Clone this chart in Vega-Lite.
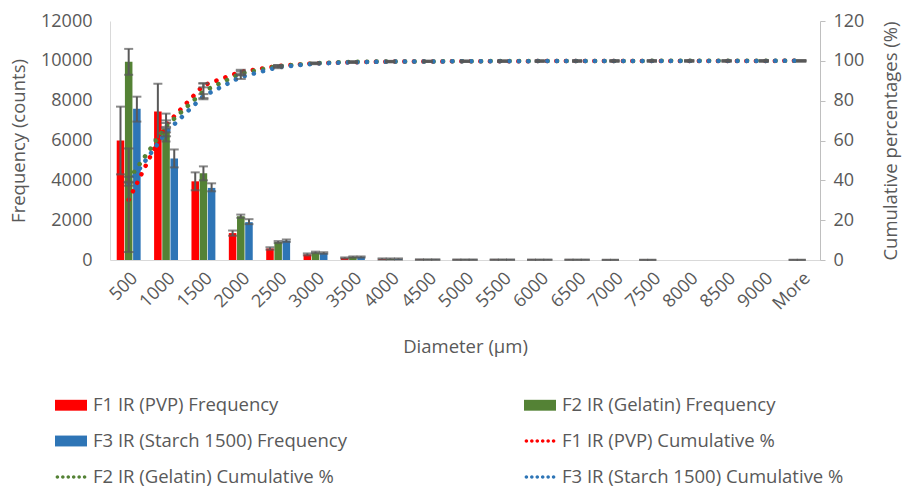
{
 "$schema": "https://vega.github.io/schema/vega-lite/v6.json",
 "width": 710, "height": 239,
 "autosize": "none",
 "padding": {"left": 110, "top": 21, "right": 84, "bottom": 228},
 "background": "white",
 "config": {
  "view": {"stroke": null},
  "font": "Open Sans",
  "axis": {"labelFont": "Open Sans", "titleFont": "Open Sans", "labelColor": "#595959", "titleColor": "#595959", "labelFontSize": 18, "titleFontSize": 18.5, "titleFontWeight": "normal", "grid": false, "labelOverlap": false}
 },
 "datasets": {"d": [
  {"d":"500","s":"F1","fk":"F1 IR (PVP) Frequency","ck":"F1 IR (PVP) Cumulative %","f":6000,"flo":4300,"fhi":7700,"c":30.2,"clo":4,"chi":56},
  {"d":"1000","s":"F1","fk":"F1 IR (PVP) Frequency","ck":"F1 IR (PVP) Cumulative %","f":7450,"flo":6050,"fhi":8850,"c":67.8,"clo":66.8,"chi":68.8},
  {"d":"1500","s":"F1","fk":"F1 IR (PVP) Frequency","ck":"F1 IR (PVP) Cumulative %","f":3950,"flo":3500,"fhi":4400,"c":87.7,"clo":86.7,"chi":88.7},
  {"d":"2000","s":"F1","fk":"F1 IR (PVP) Frequency","ck":"F1 IR (PVP) Cumulative %","f":1350,"flo":1220,"fhi":1480,"c":94.5,"clo":93.5,"chi":95.5},
  {"d":"2500","s":"F1","fk":"F1 IR (PVP) Frequency","ck":"F1 IR (PVP) Cumulative %","f":580,"flo":520,"fhi":640,"c":97.4,"clo":96.9,"chi":97.9},
  {"d":"3000","s":"F1","fk":"F1 IR (PVP) Frequency","ck":"F1 IR (PVP) Cumulative %","f":280,"flo":230,"fhi":330,"c":98.8,"clo":98.5,"chi":99.1},
  {"d":"3500","s":"F1","fk":"F1 IR (PVP) Frequency","ck":"F1 IR (PVP) Cumulative %","f":100,"flo":70,"fhi":130,"c":99.3,"clo":99.0,"chi":99.6},
  {"d":"4000","s":"F1","fk":"F1 IR (PVP) Frequency","ck":"F1 IR (PVP) Cumulative %","f":50,"flo":20,"fhi":80,"c":99.6,"clo":99.3,"chi":99.9},
  {"d":"4500","s":"F1","fk":"F1 IR (PVP) Frequency","ck":"F1 IR (PVP) Cumulative %","f":20,"flo":5,"fhi":35,"c":99.7,"clo":99.4,"chi":100},
  {"d":"5000","s":"F1","fk":"F1 IR (PVP) Frequency","ck":"F1 IR (PVP) Cumulative %","f":15,"flo":0,"fhi":30,"c":99.75,"clo":99.45,"chi":100.05},
  {"d":"5500","s":"F1","fk":"F1 IR (PVP) Frequency","ck":"F1 IR (PVP) Cumulative %","f":15,"flo":0,"fhi":30,"c":99.8,"clo":99.5,"chi":100.1},
  {"d":"6000","s":"F1","fk":"F1 IR (PVP) Frequency","ck":"F1 IR (PVP) Cumulative %","f":10,"flo":0,"fhi":25,"c":99.87,"clo":99.57,"chi":100.17},
  {"d":"6500","s":"F1","fk":"F1 IR (PVP) Frequency","ck":"F1 IR (PVP) Cumulative %","f":10,"flo":0,"fhi":25,"c":99.92,"clo":99.62,"chi":100.22},
  {"d":"7000","s":"F1","fk":"F1 IR (PVP) Frequency","ck":"F1 IR (PVP) Cumulative %","f":5,"flo":0,"fhi":15,"c":99.95,"clo":99.65,"chi":100.25},
  {"d":"7500","s":"F1","fk":"F1 IR (PVP) Frequency","ck":"F1 IR (PVP) Cumulative %","f":5,"flo":0,"fhi":15,"c":99.97,"clo":99.67,"chi":100.27},
  {"d":"8000","s":"F1","fk":"F1 IR (PVP) Frequency","ck":"F1 IR (PVP) Cumulative %","f":0,"flo":null,"fhi":null,"c":99.97,"clo":99.67,"chi":100.27},
  {"d":"8500","s":"F1","fk":"F1 IR (PVP) Frequency","ck":"F1 IR (PVP) Cumulative %","f":0,"flo":null,"fhi":null,"c":99.97,"clo":99.67,"chi":100.27},
  {"d":"9000","s":"F1","fk":"F1 IR (PVP) Frequency","ck":"F1 IR (PVP) Cumulative %","f":0,"flo":null,"fhi":null,"c":99.97,"clo":99.67,"chi":100.27},
  {"d":"More","s":"F1","fk":"F1 IR (PVP) Frequency","ck":"F1 IR (PVP) Cumulative %","f":5,"flo":0,"fhi":15,"c":100,"clo":99.7,"chi":100.3},

  {"d":"500","s":"F2","fk":"F2 IR (Gelatin) Frequency","ck":"F2 IR (Gelatin) Cumulative %","f":9950,"flo":9300,"fhi":10600,"c":40.3,"clo":38.8,"chi":41.8},
  {"d":"1000","s":"F2","fk":"F2 IR (Gelatin) Frequency","ck":"F2 IR (Gelatin) Cumulative %","f":6600,"flo":5950,"fhi":7350,"c":67.1,"clo":64.1,"chi":70.1},
  {"d":"1500","s":"F2","fk":"F2 IR (Gelatin) Frequency","ck":"F2 IR (Gelatin) Cumulative %","f":4350,"flo":4000,"fhi":4700,"c":84.7,"clo":80.7,"chi":88.7},
  {"d":"2000","s":"F2","fk":"F2 IR (Gelatin) Frequency","ck":"F2 IR (Gelatin) Cumulative %","f":2200,"flo":2120,"fhi":2280,"c":93.7,"clo":92.7,"chi":94.7},
  {"d":"2500","s":"F2","fk":"F2 IR (Gelatin) Frequency","ck":"F2 IR (Gelatin) Cumulative %","f":900,"flo":850,"fhi":950,"c":97.3,"clo":96.8,"chi":97.8},
  {"d":"3000","s":"F2","fk":"F2 IR (Gelatin) Frequency","ck":"F2 IR (Gelatin) Cumulative %","f":380,"flo":340,"fhi":420,"c":98.8,"clo":98.5,"chi":99.1},
  {"d":"3500","s":"F2","fk":"F2 IR (Gelatin) Frequency","ck":"F2 IR (Gelatin) Cumulative %","f":150,"flo":120,"fhi":180,"c":99.5,"clo":99.2,"chi":99.8},
  {"d":"4000","s":"F2","fk":"F2 IR (Gelatin) Frequency","ck":"F2 IR (Gelatin) Cumulative %","f":50,"flo":20,"fhi":80,"c":99.7,"clo":99.4,"chi":100},
  {"d":"4500","s":"F2","fk":"F2 IR (Gelatin) Frequency","ck":"F2 IR (Gelatin) Cumulative %","f":20,"flo":5,"fhi":35,"c":99.7,"clo":99.4,"chi":100},
  {"d":"5000","s":"F2","fk":"F2 IR (Gelatin) Frequency","ck":"F2 IR (Gelatin) Cumulative %","f":15,"flo":0,"fhi":30,"c":99.8,"clo":99.5,"chi":100.1},
  {"d":"5500","s":"F2","fk":"F2 IR (Gelatin) Frequency","ck":"F2 IR (Gelatin) Cumulative %","f":15,"flo":0,"fhi":30,"c":99.9,"clo":99.6,"chi":100.2},
  {"d":"6000","s":"F2","fk":"F2 IR (Gelatin) Frequency","ck":"F2 IR (Gelatin) Cumulative %","f":10,"flo":0,"fhi":25,"c":99.9,"clo":99.6,"chi":100.2},
  {"d":"6500","s":"F2","fk":"F2 IR (Gelatin) Frequency","ck":"F2 IR (Gelatin) Cumulative %","f":10,"flo":0,"fhi":25,"c":99.9,"clo":99.6,"chi":100.2},
  {"d":"7000","s":"F2","fk":"F2 IR (Gelatin) Frequency","ck":"F2 IR (Gelatin) Cumulative %","f":5,"flo":0,"fhi":15,"c":99.96,"clo":99.66,"chi":100.26},
  {"d":"7500","s":"F2","fk":"F2 IR (Gelatin) Frequency","ck":"F2 IR (Gelatin) Cumulative %","f":5,"flo":0,"fhi":15,"c":99.98,"clo":99.68,"chi":100.28},
  {"d":"8000","s":"F2","fk":"F2 IR (Gelatin) Frequency","ck":"F2 IR (Gelatin) Cumulative %","f":0,"flo":null,"fhi":null,"c":99.98,"clo":99.68,"chi":100.28},
  {"d":"8500","s":"F2","fk":"F2 IR (Gelatin) Frequency","ck":"F2 IR (Gelatin) Cumulative %","f":0,"flo":null,"fhi":null,"c":99.98,"clo":99.68,"chi":100.28},
  {"d":"9000","s":"F2","fk":"F2 IR (Gelatin) Frequency","ck":"F2 IR (Gelatin) Cumulative %","f":0,"flo":null,"fhi":null,"c":99.98,"clo":99.68,"chi":100.28},
  {"d":"More","s":"F2","fk":"F2 IR (Gelatin) Frequency","ck":"F2 IR (Gelatin) Cumulative %","f":5,"flo":0,"fhi":15,"c":100,"clo":99.7,"chi":100.3},

  {"d":"500","s":"F3","fk":"F3 IR (Starch 1500) Frequency","ck":"F3 IR (Starch 1500) Cumulative %","f":7600,"flo":6950,"fhi":8200,"c":38.3,"clo":37.3,"chi":39.3},
  {"d":"1000","s":"F3","fk":"F3 IR (Starch 1500) Frequency","ck":"F3 IR (Starch 1500) Cumulative %","f":5100,"flo":4650,"fhi":5550,"c":64.1,"clo":62.1,"chi":66.1},
  {"d":"1500","s":"F3","fk":"F3 IR (Starch 1500) Frequency","ck":"F3 IR (Starch 1500) Cumulative %","f":3620,"flo":3450,"fhi":3850,"c":82.3,"clo":81.3,"chi":83.3},
  {"d":"2000","s":"F3","fk":"F3 IR (Starch 1500) Frequency","ck":"F3 IR (Starch 1500) Cumulative %","f":1900,"flo":1800,"fhi":2050,"c":91.9,"clo":90.9,"chi":92.9},
  {"d":"2500","s":"F3","fk":"F3 IR (Starch 1500) Frequency","ck":"F3 IR (Starch 1500) Cumulative %","f":970,"flo":910,"fhi":1030,"c":96.8,"clo":96.3,"chi":97.3},
  {"d":"3000","s":"F3","fk":"F3 IR (Starch 1500) Frequency","ck":"F3 IR (Starch 1500) Cumulative %","f":350,"flo":310,"fhi":390,"c":98.6,"clo":98.3,"chi":98.9},
  {"d":"3500","s":"F3","fk":"F3 IR (Starch 1500) Frequency","ck":"F3 IR (Starch 1500) Cumulative %","f":150,"flo":120,"fhi":180,"c":99.3,"clo":99.0,"chi":99.6},
  {"d":"4000","s":"F3","fk":"F3 IR (Starch 1500) Frequency","ck":"F3 IR (Starch 1500) Cumulative %","f":50,"flo":20,"fhi":80,"c":99.6,"clo":99.3,"chi":99.9},
  {"d":"4500","s":"F3","fk":"F3 IR (Starch 1500) Frequency","ck":"F3 IR (Starch 1500) Cumulative %","f":20,"flo":5,"fhi":35,"c":99.7,"clo":99.4,"chi":100},
  {"d":"5000","s":"F3","fk":"F3 IR (Starch 1500) Frequency","ck":"F3 IR (Starch 1500) Cumulative %","f":15,"flo":0,"fhi":30,"c":99.75,"clo":99.45,"chi":100.05},
  {"d":"5500","s":"F3","fk":"F3 IR (Starch 1500) Frequency","ck":"F3 IR (Starch 1500) Cumulative %","f":15,"flo":0,"fhi":30,"c":99.8,"clo":99.5,"chi":100.1},
  {"d":"6000","s":"F3","fk":"F3 IR (Starch 1500) Frequency","ck":"F3 IR (Starch 1500) Cumulative %","f":10,"flo":0,"fhi":25,"c":99.87,"clo":99.57,"chi":100.17},
  {"d":"6500","s":"F3","fk":"F3 IR (Starch 1500) Frequency","ck":"F3 IR (Starch 1500) Cumulative %","f":10,"flo":0,"fhi":25,"c":99.92,"clo":99.62,"chi":100.22},
  {"d":"7000","s":"F3","fk":"F3 IR (Starch 1500) Frequency","ck":"F3 IR (Starch 1500) Cumulative %","f":0,"flo":null,"fhi":null,"c":99.95,"clo":99.65,"chi":100.25},
  {"d":"7500","s":"F3","fk":"F3 IR (Starch 1500) Frequency","ck":"F3 IR (Starch 1500) Cumulative %","f":0,"flo":null,"fhi":null,"c":99.97,"clo":99.67,"chi":100.27},
  {"d":"8000","s":"F3","fk":"F3 IR (Starch 1500) Frequency","ck":"F3 IR (Starch 1500) Cumulative %","f":0,"flo":null,"fhi":null,"c":99.97,"clo":99.67,"chi":100.27},
  {"d":"8500","s":"F3","fk":"F3 IR (Starch 1500) Frequency","ck":"F3 IR (Starch 1500) Cumulative %","f":0,"flo":null,"fhi":null,"c":99.97,"clo":99.67,"chi":100.27},
  {"d":"9000","s":"F3","fk":"F3 IR (Starch 1500) Frequency","ck":"F3 IR (Starch 1500) Cumulative %","f":0,"flo":null,"fhi":null,"c":99.97,"clo":99.67,"chi":100.27},
  {"d":"More","s":"F3","fk":"F3 IR (Starch 1500) Frequency","ck":"F3 IR (Starch 1500) Cumulative %","f":0,"flo":null,"fhi":null,"c":100,"clo":99.7,"chi":100.3}
 ]},
 "data": {"name": "d"},
 "encoding": {
  "x": {"field": "d", "type": "nominal",
   "sort": ["500","1000","1500","2000","2500","3000","3500","4000","4500","5000","5500","6000","6500","7000","7500","8000","8500","9000","More"],
   "scale": {"paddingInner": 0.36, "paddingOuter": 0.18},
   "axis": {"title": "Diameter (µm)", "labelAngle": -45, "domainColor": "#d9d9d9", "domainWidth": 1, "ticks": false, "labelPadding": 9, "titlePadding": 24}}
 },
 "layer": [
  {"layer": [
   {"mark": {"type": "bar"},
    "encoding": {
     "xOffset": {"field": "s", "type": "nominal", "scale": {"paddingInner": 0.08}},
     "y": {"field": "f", "type": "quantitative", "scale": {"domain": [0, 12000], "nice": false},
      "axis": {"title": "Frequency (counts)", "values": [0,2000,4000,6000,8000,10000,12000], "format": "d", "labelOverlap": false, "domainColor": "#d9d9d9", "ticks": false, "labelPadding": 18, "titlePadding": 12}},
     "color": {"field": "fk", "type": "nominal",
      "scale": {"domain": ["F1 IR (PVP) Frequency","F2 IR (Gelatin) Frequency","F3 IR (Starch 1500) Frequency","F1 IR (PVP) Cumulative %","F2 IR (Gelatin) Cumulative %","F3 IR (Starch 1500) Cumulative %"],
       "range": ["#ff0000","#548235","#2e75b6","#ff0000","#548235","#2e75b6"]},
      "legend": {"orient": "none", "legendX": -55, "legendY": 368, "direction": "horizontal", "columns": 2, "columnPadding": 177, "rowPadding": 10, "title": null,
       "labelFont": "Open Sans", "labelFontSize": 18.5, "labelColor": "#595959", "labelLimit": 500, "symbolSize": 1024, "labelOffset": 6,
       "encode": {"symbols": {"update": {
        "shape": {"signal": "indexof(datum.value, 'Frequency') >= 0 ? 'M-1,-0.34H1V0.34H-1Z' : 'M-0.96,0a0.11,0.11 0 1,0 0.22,0a0.11,0.11 0 1,0 -0.22,0M-0.62,0a0.11,0.11 0 1,0 0.22,0a0.11,0.11 0 1,0 -0.22,0M-0.28,0a0.11,0.11 0 1,0 0.22,0a0.11,0.11 0 1,0 -0.22,0M0.06,0a0.11,0.11 0 1,0 0.22,0a0.11,0.11 0 1,0 -0.22,0M0.40,0a0.11,0.11 0 1,0 0.22,0a0.11,0.11 0 1,0 -0.22,0M0.74,0a0.11,0.11 0 1,0 0.22,0a0.11,0.11 0 1,0 -0.22,0'"},
        "fill": {"scale": "color", "field": "value"},
        "stroke": {"value": "transparent"},
        "strokeWidth": {"value": 0},
        "opacity": {"value": 1},
        "fillOpacity": {"value": 1}
       }}}}
     }
    }},
   {"mark": {"type": "rule", "color": "#595959", "strokeWidth": 2},
    "encoding": {
     "xOffset": {"field": "s", "type": "nominal"},
     "y": {"field": "flo", "type": "quantitative", "axis": {"title": "Frequency (counts)", "values": [0,2000,4000,6000,8000,10000,12000], "format": "d", "labelOverlap": false, "domainColor": "#d9d9d9", "ticks": false, "labelPadding": 18, "titlePadding": 12}},
     "y2": {"field": "fhi"}
    }},
   {"mark": {"type": "tick", "orient": "horizontal", "color": "#595959", "size": 9, "thickness": 2},
    "encoding": {
     "xOffset": {"field": "s", "type": "nominal"},
     "y": {"field": "flo", "type": "quantitative", "axis": {"title": "Frequency (counts)", "values": [0,2000,4000,6000,8000,10000,12000], "format": "d", "labelOverlap": false, "domainColor": "#d9d9d9", "ticks": false, "labelPadding": 18, "titlePadding": 12}}
    }},
   {"mark": {"type": "tick", "orient": "horizontal", "color": "#595959", "size": 9, "thickness": 2},
    "encoding": {
     "xOffset": {"field": "s", "type": "nominal"},
     "y": {"field": "fhi", "type": "quantitative", "axis": {"title": "Frequency (counts)", "values": [0,2000,4000,6000,8000,10000,12000], "format": "d", "labelOverlap": false, "domainColor": "#d9d9d9", "ticks": false, "labelPadding": 18, "titlePadding": 12}}
    }}
  ]},
  {"layer": [
   {"mark": {"type": "line", "strokeDash": [0.1, 9.4], "strokeCap": "round", "strokeWidth": 4.5},
    "encoding": {
     "y": {"field": "c", "type": "quantitative", "scale": {"domain": [0, 120], "nice": false},
      "axis": {"orient": "right", "title": "Cumulative percentages (%)", "titleAngle": 270, "values": [0,20,40,60,80,100,120], "format": "d", "labelOverlap": false, "domainColor": "#bfbfbf", "tickColor": "#bfbfbf", "ticks": true, "tickSize": 5, "labelPadding": 8, "titlePadding": 37}},
     "color": {"field": "ck", "type": "nominal", "legend": null}
    }},
   {"mark": {"type": "rule", "color": "#595959", "strokeWidth": 2},
    "encoding": {
     "y": {"field": "clo", "type": "quantitative", "axis": {"orient": "right", "title": "Cumulative percentages (%)", "titleAngle": 270, "values": [0,20,40,60,80,100,120], "format": "d", "labelOverlap": false, "domainColor": "#bfbfbf", "tickColor": "#bfbfbf", "ticks": true, "tickSize": 5, "labelPadding": 8, "titlePadding": 37}},
     "y2": {"field": "chi"}
    }},
   {"mark": {"type": "tick", "orient": "horizontal", "color": "#595959", "size": 10, "thickness": 2},
    "encoding": {"y": {"field": "clo", "type": "quantitative", "axis": {"orient": "right", "title": "Cumulative percentages (%)", "titleAngle": 270, "values": [0,20,40,60,80,100,120], "format": "d", "labelOverlap": false, "domainColor": "#bfbfbf", "tickColor": "#bfbfbf", "ticks": true, "tickSize": 5, "labelPadding": 8, "titlePadding": 37}}}},
   {"mark": {"type": "tick", "orient": "horizontal", "color": "#595959", "size": 10, "thickness": 2},
    "encoding": {"y": {"field": "chi", "type": "quantitative", "axis": {"orient": "right", "title": "Cumulative percentages (%)", "titleAngle": 270, "values": [0,20,40,60,80,100,120], "format": "d", "labelOverlap": false, "domainColor": "#bfbfbf", "tickColor": "#bfbfbf", "ticks": true, "tickSize": 5, "labelPadding": 8, "titlePadding": 37}}}}
  ]}
 ],
 "resolve": {"scale": {"y": "independent"}}
}
